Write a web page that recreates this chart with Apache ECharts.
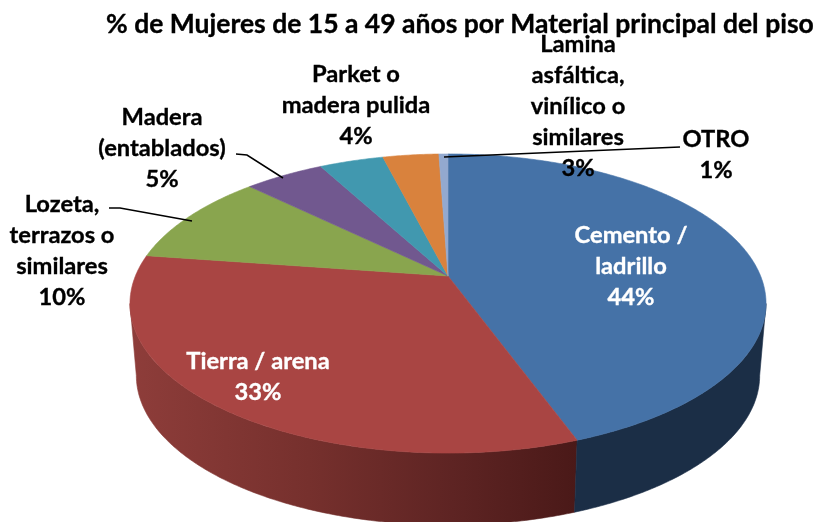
<!DOCTYPE html>
<html><head><meta charset="utf-8">
<style>html,body{margin:0;padding:0;background:#fff}#c{width:818px;height:522px}</style>
<script src="https://cdn.jsdelivr.net/npm/echarts@6/dist/echarts.min.js"></script>
</head><body><div id="c"></div>
<script>
const titleText = '% de Mujeres de 15 a 49 años por Material principal del piso';
const categories = ['Cemento /\nladrillo','Tierra / arena','Lozeta,\nterrazos o\nsimilares','Madera\n(entablados)','Parket o\nmadera pulida','Lamina\nasfáltica,\nvinílico o\nsimilares','OTRO'];
const values = [44.45,32.85,10.0,4.85,3.9,3.4,0.55];
const topColors = ['#4572A7','#A94543','#89A54E','#71588F','#4198AF','#D9823D','#93A9CF'];
// label centre layout, pixels
const labelX = [631,258,62,162,356,578,716];
const labelY = [266,377,251,148,105,106,155];
const labelColors = ['#fff','#fff','#000','#000','#000','#000','#000'];
const leaderLines = [
  null,null,
  [[109,208],[120,208],[192,221]],
  [[236,154],[247,155],[283,178]],
  null,null,
  [[680,147],[444,157]]
];
// projective disc
const HX=448,HY=276,A=312.6,B=144.5,P=0.184,DEPTH=72,SHRINK=0.98;
const total = values.reduce((a,b)=>a+b,0);
function pt(th,bottom){
  const s=Math.sin(th),c=Math.cos(th),w=1+P*c;
  const x=A*s/w,y=-B*c/w;
  return bottom?[HX+SHRINK*x,HY+y+DEPTH]:[HX+x,HY+y];
}
function arc(a,b,bottom){
  const n=Math.max(2,Math.ceil(Math.abs(b-a)/0.01)),r=[];
  for(let i=0;i<=n;i++) r.push(pt(a+(b-a)*i/n,bottom));
  return r;
}
const WALL_A=Math.acos(-P), WALL_B=2*Math.PI-Math.acos(-P);
const sideFill=[
  '#1B2E46',
  new echarts.graphic.LinearGradient(0,0,1,0,[{offset:0,color:'#8E3D3A'},{offset:0.4,color:'#76302D'},{offset:0.72,color:'#5E2423'},{offset:1,color:'#4A1918'}])
];
const starts=[];values.reduce((acc,v,i)=>{starts[i]=acc;return acc+v;},0);

function renderItem(params,api){
  const i=params.dataIndex, v=api.value(0), st=api.value(1);
  const a=st/total*2*Math.PI, b=(st+v)/total*2*Math.PI;
  const kids=[];
  const wa=Math.max(a,WALL_A), wb=Math.min(b,WALL_B);
  if(wb>wa){
    const up=arc(wa,wb,false), low=arc(wa,wb,true).reverse();
    kids.push({type:'polygon',z2:i===0?2:1,shape:{points:up.concat(low)},style:{fill:sideFill[i]||'#333',stroke:sideFill[i],lineWidth:0.6}});
  }
  kids.push({type:'polygon',z2:5,shape:{points:[[HX,HY]].concat(arc(a,b,false))},
    style:{fill:topColors[i],stroke:topColors[i],lineWidth:0.6}});
  const line=leaderLines[i];
  if(line) kids.push({type:'polyline',z2:20,shape:{points:line},style:{fill:null,stroke:'#000',lineWidth:1.5}});
  kids.push({type:'text',z2:30,style:{
    x:labelX[i],y:labelY[i],text:categories[i]+'\n'+Math.round(v)+'%',
    fill:labelColors[i],font:'bold 23.7px Lato, "Open Sans", sans-serif',
    stroke:labelColors[i],lineWidth:0.35,
    align:'center',verticalAlign:'middle',lineHeight:31}});
  return {type:'group',children:kids};
}
const chart=echarts.init(document.getElementById('c'),null,{renderer:'canvas'});
chart.setOption({
  animation:false,
  backgroundColor:'#fff',
  title:{text:titleText,left:106,top:11,padding:0,textStyle:{fontFamily:'Lato',fontWeight:'bold',fontSize:26.5,color:'#000',textBorderColor:'#000',textBorderWidth:0.35}},
  series:[{type:'custom',coordinateSystem:'none',renderItem,silent:true,
    data:values.map((v,i)=>[v,starts[i]])}]
});
</script></body></html>
